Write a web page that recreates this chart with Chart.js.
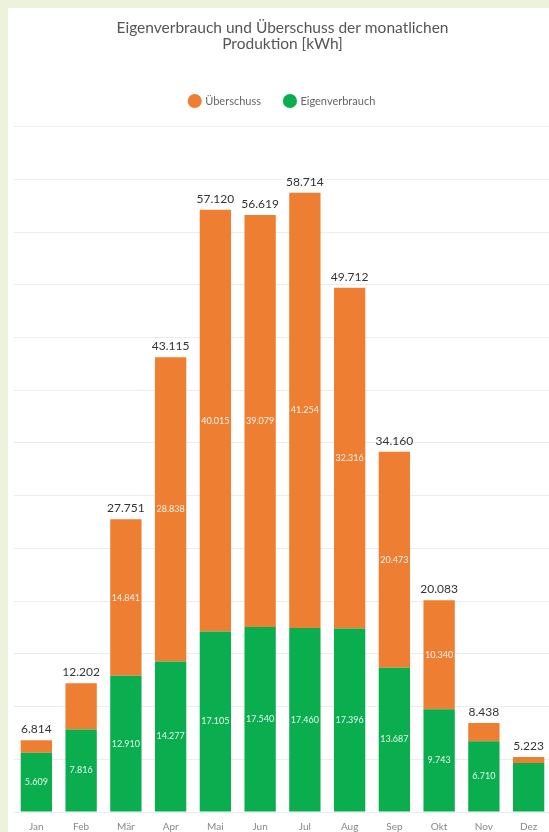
<!DOCTYPE html>
<html>
<head>
<meta charset="utf-8">
<script src="https://cdn.jsdelivr.net/npm/chart.js@4.4.1/dist/chart.umd.min.js"></script>
<style>
  html, body { margin: 0; padding: 0; background: #edf2dd; overflow: hidden; }
  body { width: 549px; height: 832px; position: relative; }
  #panel { position: absolute; left: 8px; top: 8px; width: 549px; height: 832px; background: #fff; }
  #chart { display: block; }
</style>
</head>
<body>
<div id="panel"><canvas id="chart" width="549" height="826"></canvas></div>
<script>
const months = ['Jan', 'Feb', 'Mär', 'Apr', 'Mai', 'Jun', 'Jul', 'Aug', 'Sep', 'Okt', 'Nov', 'Dez']
const eigenverbrauch = [5609, 7816, 12910, 14277, 17105, 17540, 17460, 17396, 13687, 9743, 6710, 4635]
const ueberschuss = [1205, 4386, 14841, 28838, 40015, 39079, 41254, 32316, 20473, 10340, 1728, 588]

const ORANGE = '#ee7f32'
const GREEN = '#0aae4f'

// 12345 -> "12.345"
const fmt = v => String(Math.round(v)).replace(/\B(?=(\d{3})+(?!\d))/g, '.')

// extra space between legend and plot area
const legendGap = {
  id: 'legendGap',
  beforeInit(chart) {
    const fit = chart.legend.fit
    chart.legend.fit = function () {
      fit.call(this)
      this.height += 10
    }
  },
}

// draws segment values inside bars and the stack total above
const barLabels = {
  id: 'barLabels',
  afterDatasetsDraw(chart) {
    const { ctx } = chart
    ctx.save()
    ctx.textAlign = 'center'
    ctx.textBaseline = 'middle'
    ctx.font = '9px Lato'
    ctx.fillStyle = 'rgba(255,255,255,0.9)'
    chart.data.datasets.forEach((ds, di) => {
      const meta = chart.getDatasetMeta(di)
      meta.data.forEach((bar, i) => {
        if (ds.data[i] < 5000) return
        ctx.fillText(fmt(ds.data[i]), bar.x, (bar.y + bar.base) / 2)
      })
    })
    const top = chart.getDatasetMeta(chart.data.datasets.length - 1)
    ctx.font = '12px Lato'
    ctx.fillStyle = '#333'
    ctx.textBaseline = 'bottom'
    top.data.forEach((bar, i) => {
      const total = eigenverbrauch[i] + ueberschuss[i]
      ctx.fillText(fmt(total), bar.x, bar.y - 5)
    })
    ctx.restore()
  },
}

new Chart(document.getElementById('chart'), {
  type: 'bar',
  data: {
    labels: months,
    datasets: [
      { label: 'Eigenverbrauch', data: eigenverbrauch, backgroundColor: GREEN },
      { label: 'Überschuss', data: ueberschuss, backgroundColor: ORANGE },
    ],
  },
  options: {
    responsive: false,
    animation: false,
    layout: { padding: { left: 6, right: 6, top: 0, bottom: 0 } },
    datasets: { bar: { barPercentage: 0.7, categoryPercentage: 1 } },
    scales: {
      x: {
        stacked: true,
        grid: { display: false },
        border: { display: false },
        ticks: { color: '#888', font: { family: 'Lato', size: 10 }, padding: 1 },
      },
      y: {
        stacked: true,
        min: 0, max: 65000,
        ticks: { stepSize: 5000, display: false },
        grid: { color: '#ececec', drawTicks: false },
        border: { display: false },
      },
    },
    plugins: {
      title: {
        display: true,
        text: ['Eigenverbrauch und Überschuss der monatlichen', 'Produktion [kWh]'],
        color: '#555',
        font: { family: 'Lato', size: 15.5, weight: 'normal', lineHeight: 1.05 },
        padding: { top: 12, bottom: 19 },
      },
      legend: {
        reverse: true,
        labels: {
          usePointStyle: true,
          pointStyle: 'circle',
          boxWidth: 10,
          boxHeight: 10,
          padding: 24,
          color: '#666',
          font: { family: 'Lato', size: 11 },
        },
      },
      tooltip: { enabled: false },
    },
  },
  plugins: [legendGap, barLabels],
})
</script>
</body>
</html>
